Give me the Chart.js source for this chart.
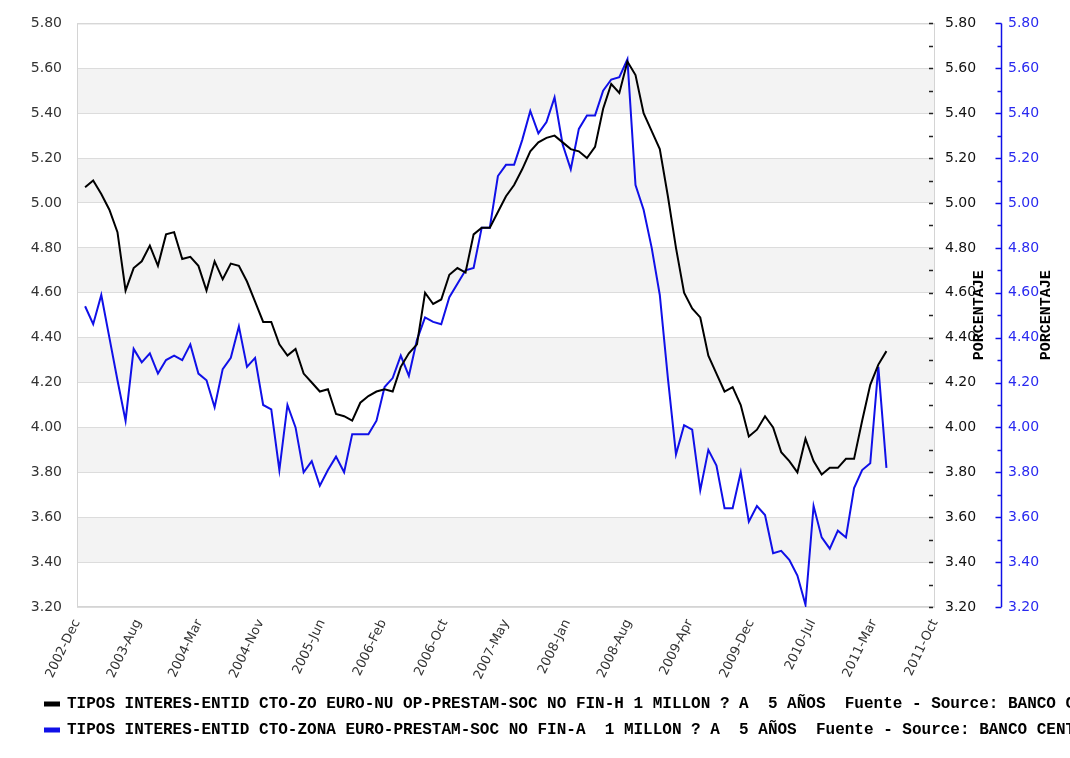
<!DOCTYPE html>
<html>
<head>
<meta charset="utf-8">
<script src="https://cdn.jsdelivr.net/npm/chart.js@4/dist/chart.umd.min.js"></script>
<style>
  html, body { margin: 0; padding: 0; background: #fff; }
</style>
</head>
<body>
<canvas id="rateChart" width="1070" height="758"></canvas>
<script>
// x positions are months counted from 2002-Dec; the series start in 2003-Jan
const tickLabels = [
  "2002-Dec", "2003-Aug", "2004-Mar", "2004-Nov", "2005-Jun", "2006-Feb", "2006-Oct", "2007-May",
  "2008-Jan", "2008-Aug", "2009-Apr", "2009-Dec", "2010-Jul", "2011-Mar", "2011-Oct",
];
const axisMonths = 106;
const firstMonth = 1;

const seriesNames = [
  "TIPOS INTERES-ENTID CTO-ZO EURO-NU OP-PRESTAM-SOC NO FIN-H 1 MILLON ? A  5 AÑOS  Fuente - Source: BANCO CENTRAL EUROPEO",
  "TIPOS INTERES-ENTID CTO-ZONA EURO-PRESTAM-SOC NO FIN-A  1 MILLON ? A  5 AÑOS  Fuente - Source: BANCO CENTRAL EUROPEO",
];

const blackValues = [
  5.07, 5.10, 5.04, 4.97, 4.87, 4.61, 4.71, 4.74, 4.81, 4.72,
  4.86, 4.87, 4.75, 4.76, 4.72, 4.61, 4.74, 4.66, 4.73, 4.72,
  4.65, 4.56, 4.47, 4.47, 4.37, 4.32, 4.35, 4.24, 4.20, 4.16,
  4.17, 4.06, 4.05, 4.03, 4.11, 4.14, 4.16, 4.17, 4.16, 4.27,
  4.33, 4.37, 4.60, 4.55, 4.57, 4.68, 4.71, 4.69, 4.86, 4.89,
  4.89, 4.96, 5.03, 5.08, 5.15, 5.23, 5.27, 5.29, 5.30, 5.27,
  5.24, 5.23, 5.20, 5.25, 5.42, 5.53, 5.49, 5.63, 5.57, 5.40,
  5.32, 5.24, 5.03, 4.80, 4.60, 4.53, 4.49, 4.32, 4.24, 4.16,
  4.18, 4.10, 3.96, 3.99, 4.05, 4.00, 3.89, 3.85, 3.80, 3.95,
  3.85, 3.79, 3.82, 3.82, 3.86, 3.86, 4.03, 4.19, 4.28, 4.34,
];

const blueValues = [
  4.54, 4.46, 4.59, 4.40, 4.21, 4.03, 4.35, 4.29, 4.33, 4.24,
  4.30, 4.32, 4.30, 4.37, 4.24, 4.21, 4.09, 4.26, 4.31, 4.45,
  4.27, 4.31, 4.10, 4.08, 3.81, 4.10, 4.00, 3.80, 3.85, 3.74,
  3.81, 3.87, 3.80, 3.97, 3.97, 3.97, 4.03, 4.18, 4.22, 4.32,
  4.23, 4.39, 4.49, 4.47, 4.46, 4.58, 4.64, 4.70, 4.71, 4.89,
  4.89, 5.12, 5.17, 5.17, 5.28, 5.41, 5.31, 5.36, 5.47, 5.26,
  5.15, 5.33, 5.39, 5.39, 5.50, 5.55, 5.56, 5.64, 5.08, 4.97,
  4.80, 4.59, 4.22, 3.88, 4.01, 3.99, 3.72, 3.90, 3.83, 3.64,
  3.64, 3.80, 3.58, 3.65, 3.61, 3.44, 3.45, 3.41, 3.34, 3.21,
  3.65, 3.51, 3.46, 3.54, 3.51, 3.73, 3.81, 3.84, 4.27, 3.82,
];

const yMin = 3.2;
const yMax = 5.8;
const axisTitle = "PORCENTAJE";
const blue = "#1010e8";

const toPoints = (values) => values.map((v, i) => ({ x: firstMonth + i, y: v }));
const isMajor = (v) => Math.round(v * 10) % 2 === 0;

// white background and alternate grey bands between gridlines
const bandsPlugin = {
  id: "bands",
  afterLayout: (chart) => {
    // legend sits a little further right than the left axis labels
    chart.legend.left += 15;
    chart.legend.right += 15;
  },
  beforeDraw: (chart) => {
    const { ctx, chartArea } = chart;
    const y = chart.scales.y;
    ctx.save();
    ctx.fillStyle = "#fff";
    ctx.fillRect(0, 0, chart.width, chart.height);
    ctx.fillStyle = "#f3f3f3";
    y.ticks.forEach((t, i) => {
      if (i % 2 === 1 && i < y.ticks.length - 1) {
        const top = y.getPixelForValue(y.ticks[i + 1].value);
        const bottom = y.getPixelForValue(t.value);
        ctx.fillRect(chartArea.left, top, chartArea.right - chartArea.left, bottom - top);
      }
    });
    ctx.restore();
  },
  beforeDatasetsDraw: (chart) => {
    const { ctx, chartArea } = chart;
    ctx.save();
    ctx.strokeStyle = "#d4d4d4";
    ctx.lineWidth = 1;
    ctx.strokeRect(chartArea.left + 0.5, chartArea.top + 0.5,
      chartArea.right - chartArea.left - 1, chartArea.bottom - chartArea.top - 1);
    ctx.restore();
  },
};

// inward tick marks on the right axes, the blue axis line and the rotated titles
const rightAxesPlugin = {
  id: "rightAxes",
  afterDraw: (chart) => {
    const { ctx, chartArea } = chart;
    const yR = chart.scales.yR;
    const yB = chart.scales.yB;
    ctx.save();
    ctx.lineWidth = 1.5;
    ctx.strokeStyle = "#222";
    yR.ticks.forEach((t) => {
      const py = Math.round(yR.getPixelForValue(t.value)) + 0.5;
      ctx.beginPath();
      ctx.moveTo(chartArea.right - 6, py);
      ctx.lineTo(chartArea.right - 2, py);
      ctx.stroke();
    });

    const bx = yB.left + 6.5;
    ctx.strokeStyle = blue;
    ctx.beginPath();
    ctx.moveTo(bx, yB.top);
    ctx.lineTo(bx, yB.bottom);
    ctx.stroke();
    yB.ticks.forEach((t) => {
      const py = Math.round(yB.getPixelForValue(t.value)) + 0.5;
      ctx.beginPath();
      ctx.moveTo(bx - (isMajor(t.value) ? 6 : 4), py);
      ctx.lineTo(bx, py);
      ctx.stroke();
    });

    ctx.fillStyle = "#000";
    ctx.font = "bold 15px 'Liberation Mono', monospace";
    ctx.textAlign = "center";
    ctx.textBaseline = "middle";
    const midY = (chartArea.top + chartArea.bottom) / 2;
    [yR.left + 44, yB.left + 51].forEach((x) => {
      ctx.save();
      ctx.translate(x, midY);
      ctx.rotate(-Math.PI / 2);
      ctx.fillText(axisTitle, 0, 0);
      ctx.restore();
    });
    ctx.restore();
  },
};

const labelFont = { family: "'DejaVu Sans', sans-serif", size: 14 };

const ctx = document.getElementById("rateChart").getContext("2d");
const rateChart = new Chart(ctx, {
  type: "line",
  data: {
    datasets: [
      {
        label: seriesNames[0],
        data: toPoints(blackValues),
        borderColor: "#000",
        backgroundColor: "#000",
        borderWidth: 2,
        pointRadius: 0,
        yAxisID: "y",
      },
      {
        label: seriesNames[1],
        data: toPoints(blueValues),
        borderColor: blue,
        backgroundColor: blue,
        borderWidth: 2,
        pointRadius: 0,
        yAxisID: "yB",
      },
    ],
  },
  options: {
    responsive: false,
    animation: false,
    devicePixelRatio: 1,
    layout: { padding: { top: 21, left: 20, right: 0, bottom: 10 } },
    scales: {
      x: {
        type: "linear",
        min: 0,
        max: axisMonths,
        afterBuildTicks: (scale) => {
          scale.ticks = tickLabels.map((_, i) => ({ value: (i * axisMonths) / (tickLabels.length - 1) }));
        },
        afterFit: (scale) => {
          scale.height = 79;
        },
        ticks: {
          autoSkip: false,
          minRotation: 64,
          maxRotation: 64,
          padding: 10,
          color: "#333",
          font: { family: "'DejaVu Sans', sans-serif", size: 13 },
          callback: (value, index) => tickLabels[index],
        },
        grid: { display: false, drawTicks: false },
        border: { display: false },
      },
      y: {
        position: "left",
        min: yMin,
        max: yMax,
        afterFit: (scale) => {
          scale.width = 57;
        },
        ticks: {
          stepSize: 0.2,
          padding: 15,
          color: "#333",
          font: labelFont,
          callback: (v) => v.toFixed(2),
        },
        grid: { color: "#dcdcdc", lineWidth: 1, drawTicks: false },
        border: { display: false },
      },
      yR: {
        position: "right",
        min: yMin,
        max: yMax,
        afterFit: (scale) => {
          scale.width = 60;
        },
        ticks: {
          stepSize: 0.1,
          padding: 10,
          color: "#111",
          font: labelFont,
          callback: (v) => (isMajor(v) ? v.toFixed(2) : ""),
        },
        grid: { display: false, drawTicks: false },
        border: { display: false },
      },
      yB: {
        position: "right",
        min: yMin,
        max: yMax,
        afterFit: (scale) => {
          scale.width = 75;
        },
        ticks: {
          stepSize: 0.1,
          padding: 13,
          color: "#2a2af0",
          font: labelFont,
          callback: (v) => (isMajor(v) ? v.toFixed(2) : ""),
        },
        grid: { display: false, drawTicks: false },
        border: { display: false },
      },
    },
    plugins: {
      tooltip: { enabled: false },
      legend: {
        display: true,
        position: "bottom",
        align: "start",
        labels: {
          color: "#000",
          boxWidth: 14,
          boxHeight: 3,
          padding: 10,
          font: { family: "'Liberation Mono', monospace", size: 16, weight: "bold" },
        },
      },
    },
  },
  plugins: [bandsPlugin, rightAxesPlugin],
});
</script>
</body>
</html>
